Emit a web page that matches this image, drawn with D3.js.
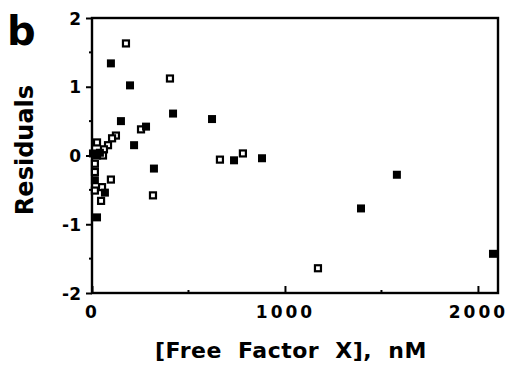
<!DOCTYPE html>
<html>
<head>
<meta charset="utf-8">
<script src="https://cdn.jsdelivr.net/npm/d3@7"></script>
<style>
  body { margin: 0; background: #fff; }
  svg text { font-family: "DejaVu Sans", "Liberation Sans", Arial, sans-serif; font-weight: bold; fill: #000; }
</style>
</head>
<body>
<div id="wrapper"></div>
<script>
// DATA: filled squares
const filledX = [98, 197, 150, 218, 420, 622, 280, 321, 736, 881, 1580, 1394, 2078, 41, 5, 26, 15, 67, 26]
const filledY = [1.34, 1.02, 0.50, 0.15, 0.61, 0.53, 0.42, -0.19, -0.07, -0.04, -0.28, -0.77, -1.43, 0.04, 0.03, 0.0, -0.36, -0.54, -0.90]

// open squares
const openX = [176, 404, 254, 316, 663, 782, 1171, 124, 104, 83, 62, 26, 57, 15, 15, 98, 52, 47, 15]
const openY = [1.63, 1.12, 0.38, -0.58, -0.06, 0.03, -1.64, 0.29, 0.25, 0.15, 0.09, 0.19, 0.0, -0.12, -0.24, -0.35, -0.46, -0.66, -0.51]

const xTicks = [0, 1000, 2000]
const yTicks = [-2, -1, 0, 1, 2]

const dimensions = {
    width: 507,
    height: 366,
    margin: { top: 18, right: 9, bottom: 73, left: 92 }
}
dimensions.boundedWidth = dimensions.width - dimensions.margin.left - dimensions.margin.right
dimensions.boundedHeight = dimensions.height - dimensions.margin.top - dimensions.margin.bottom

const svg = d3.select('#wrapper').append('svg')
    .attr('width', dimensions.width)
    .attr('height', dimensions.height)

const bounds = svg.append('g')
    .attr('transform', `translate(${dimensions.margin.left},${dimensions.margin.top})`)

const xScale = d3.scaleLinear().domain([0, 2104]).range([0, dimensions.boundedWidth])
const yScale = d3.scaleLinear().domain([-2, 2]).range([dimensions.boundedHeight, 0])

const font = '"DejaVu Sans", "Liberation Sans", Arial, sans-serif'

// frame
bounds.append('rect')
    .attr('width', dimensions.boundedWidth)
    .attr('height', dimensions.boundedHeight)
    .attr('fill', 'none')
    .attr('stroke', '#000')
    .attr('stroke-width', 2.4)

// y axis
const yAxis = d3.axisLeft(yScale).tickValues(yTicks).tickSize(6).tickFormat(d3.format('d'))
const yAxisG = bounds.append('g').call(yAxis)
yAxisG.select('.domain').remove()
yAxisG.selectAll('line').attr('stroke-width', 2)
yAxisG.selectAll('text')
    .attr('font-size', 17)
    .attr('font-family', font)
    .attr('font-weight', 'bold')
    .attr('x', -11)
    .attr('dy', '0.36em')
    .text(d => d < 0 ? '-' + Math.abs(d) : d)

// y minor ticks
bounds.selectAll('.yminor')
    .data([-1.5, -0.5, 0.5, 1.5])
    .join('line')
    .attr('x1', -3).attr('x2', 0)
    .attr('y1', d => yScale(d)).attr('y2', d => yScale(d))
    .attr('stroke', '#000').attr('stroke-width', 2)

// x axis, ticks pointing inward
const xAxis = d3.axisBottom(xScale).tickValues(xTicks).tickSize(-7).tickFormat(d3.format('d'))
const xAxisG = bounds.append('g')
    .attr('transform', `translate(0,${dimensions.boundedHeight})`)
    .call(xAxis)
xAxisG.select('.domain').remove()
xAxisG.selectAll('line').attr('stroke-width', 2)
xAxisG.selectAll('text')
    .attr('font-size', 17)
    .attr('font-family', font)
    .attr('font-weight', 'bold')
    .attr('letter-spacing', 3)
    .attr('y', 13)
    .attr('dy', '0.71em')

// x minor ticks
bounds.selectAll('.xminor')
    .data([500, 1500])
    .join('line')
    .attr('x1', d => xScale(d)).attr('x2', d => xScale(d))
    .attr('y1', dimensions.boundedHeight).attr('y2', dimensions.boundedHeight - 3)
    .attr('stroke', '#000').attr('stroke-width', 2)

// markers
const size = 8
bounds.selectAll('.open')
    .data(d3.zip(openX, openY))
    .join('rect')
    .attr('x', d => xScale(d[0]) - size / 2 + 1)
    .attr('y', d => yScale(d[1]) - size / 2 + 1)
    .attr('width', size - 2)
    .attr('height', size - 2)
    .attr('fill', '#fff')
    .attr('stroke', '#000')
    .attr('stroke-width', 2.2)

bounds.selectAll('.filled')
    .data(d3.zip(filledX, filledY))
    .join('rect')
    .attr('x', d => xScale(d[0]) - size / 2)
    .attr('y', d => yScale(d[1]) - size / 2)
    .attr('width', size)
    .attr('height', size)
    .attr('fill', '#000')

// labels
svg.append('text')
    .attr('x', 7).attr('y', 45)
    .attr('font-size', 40)
    .text('b')

svg.append('text')
    .attr('transform', `translate(33,150) rotate(-90)`)
    .attr('text-anchor', 'middle')
    .attr('font-size', 24)
    .text('Residuals')

svg.append('text')
    .attr('x', 291).attr('y', 358)
    .attr('text-anchor', 'middle')
    .attr('font-size', 22)
    .attr('letter-spacing', 0.5)
    .attr('word-spacing', 8)
    .text('[Free Factor X], nM')
</script>
</body>
</html>
